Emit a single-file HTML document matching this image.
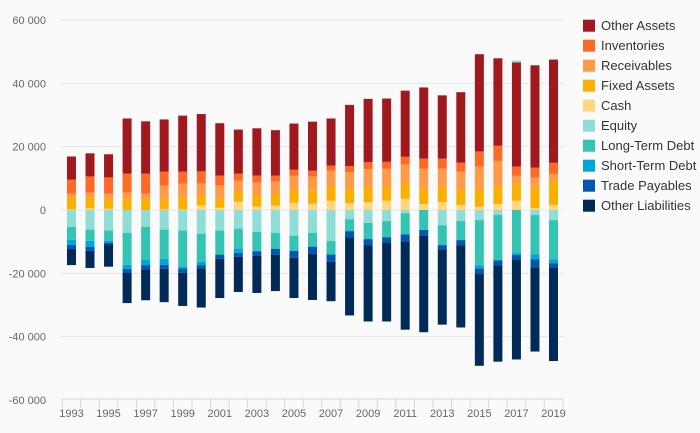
<!DOCTYPE html>
<html><head><meta charset="utf-8"><style>
body{margin:0;background:#fafafa;}
svg{display:block;font-family:"Liberation Sans",sans-serif;}
</style></head><body>
<svg id="chart" width="700" height="433">
<rect width="700" height="433" fill="#fafafa"/>
<g id="grid"></g><g id="bars"></g><g id="axes"></g><g id="legend"></g>
</svg>
<script>
const years=[1993,1994,1995,1996,1997,1998,1999,2000,2001,2002,2003,2004,2005,2006,2007,2008,2009,2010,2011,2012,2013,2014,2015,2016,2017,2018,2019];
const cash=[200,500,400,0,0,200,200,1400,700,2600,1100,1400,2300,2000,2900,2200,2500,2900,3500,1900,2500,1600,1000,1900,2900,600,1600];
const fixedAssets=[3700,3400,3200,3600,3600,3400,3700,2900,2900,3200,3500,3500,4100,4200,4400,4400,4500,4400,4900,4800,4800,4900,5500,5400,5700,6400,7600];
const receivables=[1300,1600,1600,1900,1600,4100,4400,4100,4100,3500,4100,4100,4400,4300,5100,5400,5900,5700,5900,6300,5700,5600,7200,8200,2200,3200,2200];
const inventories=[4400,5100,5100,6000,6300,4400,3800,3800,3200,2200,2200,1900,1900,1900,1600,1900,2200,2200,2500,3200,3200,2900,4800,4800,2900,3200,3500];
const otherAssets=[7300,7300,7300,17400,16500,16500,17700,18100,16500,13900,14900,14300,14600,15500,14900,19300,20000,20000,20900,22500,20000,22200,30700,27600,32900,32300,32600];
const equity=[-5300,-6200,-6500,-7200,-5300,-6200,-6500,-7500,-6500,-5900,-6900,-7200,-8100,-7200,-9800,-2900,-4100,-3500,-1000,0,-4800,-3500,-3200,-1600,600,-1600,-3200];
const longTermDebt=[-4100,-3500,-3200,-10100,-10500,-9200,-11400,-8900,-7600,-6300,-6000,-5100,-4800,-4400,-4100,-3500,-5100,-5100,-6700,-6300,-6300,-6000,-14300,-14300,-13600,-12400,-12400];
const shortTermDebt=[-1600,-1900,-600,-1300,-1600,-1900,-600,-1000,0,-1300,-200,0,0,0,-300,-300,0,0,0,0,0,0,-1000,0,-600,-1600,-1200];
const tradePayables=[-1300,-1300,-600,-1300,-1300,-1300,-1300,-1000,-1300,-1300,-1400,-1900,-2200,-2200,-2200,-1900,-1900,-1600,-2200,-1900,-1300,-1600,-1600,-1600,-1600,-2500,-1400];
const otherLiabilities=[-5100,-5400,-7000,-9500,-9800,-10500,-10500,-12400,-12400,-11100,-11700,-11400,-12700,-14600,-12400,-24700,-24100,-25000,-27900,-30400,-23800,-26000,-29100,-30400,-31400,-26600,-29500];
const yTicks=[-60000,-40000,-20000,0,20000,40000,60000];
const yTickLabels=["-60 000","-40 000","-20 000","0","20 000","40 000","60 000"];

const NS="http://www.w3.org/2000/svg";
function mk(t,a,p){const e=document.createElementNS(NS,t);for(const k in a)e.setAttribute(k,a[k]);p.appendChild(e);return e;}
const X0=62.2,STEP=18.54,BW=9;
const yS=v=>210-v*380/120000;
const xC=i=>X0+STEP*(i+0.5);
const grid=document.getElementById('grid'),bars=document.getElementById('bars'),axes=document.getElementById('axes'),legend=document.getElementById('legend');
yTicks.forEach((t,i)=>{
  if(t!==-60000){const l=mk('line',{x1:60,x2:565,y1:yS(t),y2:yS(t),stroke:'#e6e6e6','stroke-width':1},grid);
  
  }
  const tx=mk('text',{x:46,y:yS(t)+4,'text-anchor':'end','font-size':11,fill:'#666'},axes);
  tx.textContent=yTickLabels[i];
  
  
});
const axl=mk('line',{x1:X0,x2:X0+STEP*years.length,y1:399,y2:399,stroke:'#ccd6eb'},axes);


for(let i=0;i<=years.length;i++){
  const tk=mk('line',{x1:X0+STEP*i,x2:X0+STEP*i,y1:399,y2:408,stroke:'#ccd6eb'},axes);
  
  
}
years.forEach((y,i)=>{if(i%2===0){
  const tx=mk('text',{x:xC(i),y:417,'text-anchor':'middle','font-size':11,fill:'#666'},axes);
  tx.textContent=y;
  
  
}});
const series=[
 {n:'Other Assets',c:'#a0191f',d:otherAssets},
 {n:'Inventories',c:'#ff6928',d:inventories},
 {n:'Receivables',c:'#ff9a48',d:receivables},
 {n:'Fixed Assets',c:'#fbb000',d:fixedAssets},
 {n:'Cash',c:'#ffd780',d:cash},
 {n:'Equity',c:'#8fded5',d:equity},
 {n:'Long-Term Debt',c:'#33c4b4',d:longTermDebt},
 {n:'Short-Term Debt',c:'#00a6d8',d:shortTermDebt},
 {n:'Trade Payables',c:'#0057b0',d:tradePayables},
 {n:'Other Liabilities',c:'#002b59',d:otherLiabilities}];
const posOrder=[4,3,2,1,0,5],negOrder=[5,6,7,8,9];
years.forEach((y,i)=>{
  let p=0;posOrder.forEach(s=>{const v=series[s].d[i];if(v>0){
    const r=mk('rect',{x:xC(i)-BW/2,y:yS(p+v),width:BW,height:yS(p)-yS(p+v),fill:series[s].c},bars);
    
    p+=v;}});
  let n=0;negOrder.forEach(s=>{const v=series[s].d[i];if(v<0){
    const r=mk('rect',{x:xC(i)-BW/2,y:yS(n),width:BW,height:yS(n+v)-yS(n),fill:series[s].c},bars);
    
    n+=v;}});
});
series.forEach((s,i)=>{
  const g=mk('g',{},legend);
  
  
  const cy=25.7+20*i;
  mk('rect',{x:583,y:cy-6,width:12,height:12,fill:s.c},g);
  const t=mk('text',{x:601,y:cy+4.5,'font-size':13,fill:'#333'},g);
  t.textContent=s.n;
});
</script>
</body></html>
